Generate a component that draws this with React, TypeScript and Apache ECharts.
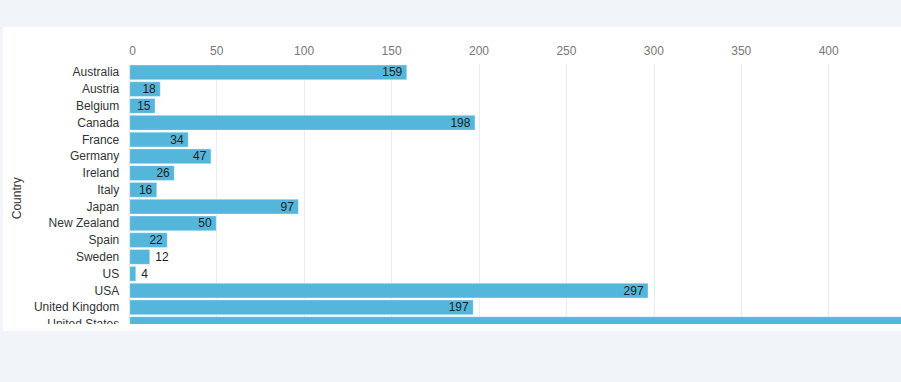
import React, { useEffect, useRef } from "react";
import * as echarts from "echarts";

const categories = [
  "Australia",
  "Austria",
  "Belgium",
  "Canada",
  "France",
  "Germany",
  "Ireland",
  "Italy",
  "Japan",
  "New Zealand",
  "Spain",
  "Sweden",
  "US",
  "USA",
  "United Kingdom",
  "United States",
];
const values = [159, 18, 15, 198, 34, 47, 26, 16, 97, 50, 22, 12, 4, 297, 197, 480];
const axisMax = 500;
const axisInterval = 50;

const FONT = "'Liberation Sans', Arial, Helvetica, sans-serif";

export default function App() {
  const ref = useRef<HTMLDivElement>(null);

  useEffect(() => {
    if (!ref.current) return;
    const chart = echarts.init(ref.current, undefined, { renderer: "svg" });
    chart.setOption({
      animation: false,
      textStyle: { fontFamily: FONT },
      grid: { left: 122.5, top: 37, right: 39.5, bottom: 14.5, containLabel: false },
      xAxis: {
        type: "value",
        position: "top",
        min: 0,
        max: axisMax,
        interval: axisInterval,
        axisLine: { show: false },
        axisTick: { show: false },
        axisLabel: {
          color: "#777",
          fontSize: 12,
          margin: 7,
          fontFamily: FONT,
          alignMinLabel: "left",
        },
        splitLine: { show: true, lineStyle: { color: "#e9edf3", width: 1 } },
      },
      yAxis: {
        type: "category",
        data: categories,
        inverse: true,
        name: "Country",
        nameLocation: "middle",
        nameGap: 102,
        nameRotate: 90,
        nameTextStyle: { color: "#333", fontSize: 12, fontFamily: FONT },
        axisLine: { show: false },
        axisTick: { show: false },
        axisLabel: { color: "#333", fontSize: 12, margin: 10, fontFamily: FONT },
        splitLine: { show: false },
      },
      series: [
        {
          type: "bar",
          data: values.map((v) => ({
            value: v,
            label: { position: v >= 15 ? "insideRight" : "right" },
          })),
          barCategoryGap: "6%",
          itemStyle: {
            color: "#54b6da",
            borderColor: "rgba(255,255,255,0.35)",
            borderWidth: 1,
          },
          label: {
            show: true,
            color: "#222",
            fontSize: 12,
            distance: 5,
            fontFamily: FONT,
          },
        },
      ],
    });
    return () => chart.dispose();
  }, []);

  return (
    <div
      style={{
        position: "fixed",
        left: 0,
        top: 0,
        width: 901,
        height: 382,
        background: "#f1f4f9",
        overflow: "hidden",
      }}
    >
      <div
        style={{
          position: "absolute",
          left: 3,
          top: 27,
          width: 898,
          height: 304,
          background: "#ffffff",
          overflow: "hidden",
        }}
      >
        <div
          style={{
            position: "absolute",
            left: 0,
            top: 0,
            width: 898,
            height: 297,
            overflow: "hidden",
          }}
        >
          <div ref={ref} style={{ width: 1040, height: 320 }} />
        </div>
      </div>
    </div>
  );
}
